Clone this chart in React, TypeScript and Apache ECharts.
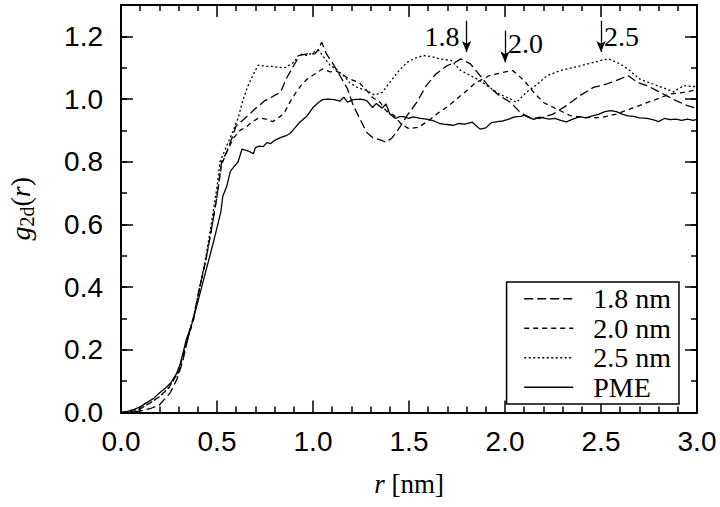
import React, { useEffect, useRef } from "react";
import * as echarts from "echarts";

// r [nm], g2d(r)
const cut18: [number, number][] = [
  [0.0, 0.0], [0.05, 0.0], [0.1, 0.005], [0.15, 0.012], [0.2, 0.024], [0.255, 0.062], [0.29, 0.104],
  [0.32, 0.16], [0.35, 0.24], [0.38, 0.31], [0.41, 0.4], [0.44, 0.48], [0.47, 0.58], [0.5, 0.69],
  [0.524, 0.8], [0.55, 0.83], [0.58, 0.88], [0.6, 0.915], [0.63, 0.93], [0.67, 0.952], [0.7, 0.97],
  [0.72, 0.98], [0.75, 0.995], [0.78, 1.005], [0.81, 1.015], [0.83, 1.021], [0.86, 1.064], [0.9, 1.107],
  [0.93, 1.139], [0.97, 1.144], [1.01, 1.144], [1.03, 1.16], [1.045, 1.181], [1.07, 1.144], [1.1, 1.117],
  [1.14, 1.075], [1.18, 1.032], [1.21, 0.979], [1.245, 0.936], [1.28, 0.893], [1.31, 0.877], [1.35, 0.87],
  [1.38, 0.862], [1.41, 0.875], [1.44, 0.899], [1.49, 0.947], [1.54, 0.989], [1.59, 1.043], [1.64, 1.08],
  [1.7, 1.107], [1.74, 1.117], [1.77, 1.128], [1.82, 1.112], [1.87, 1.075], [1.92, 1.037], [1.97, 1.011],
  [2.03, 0.989], [2.08, 0.957], [2.13, 0.941], [2.18, 0.938], [2.25, 0.952], [2.32, 0.979], [2.39, 1.011],
  [2.46, 1.037], [2.53, 1.048], [2.6, 1.064], [2.64, 1.075], [2.69, 1.053], [2.74, 1.043], [2.79, 1.027],
  [2.84, 1.011], [2.89, 0.995], [2.95, 0.979], [3.0, 0.97],
];

const cut20: [number, number][] = [
  [0.0, 0.0], [0.05, 0.002], [0.1, 0.012], [0.15, 0.03], [0.2, 0.05], [0.25, 0.08], [0.3, 0.13],
  [0.34, 0.22], [0.38, 0.3], [0.41, 0.4], [0.44, 0.48], [0.47, 0.58], [0.5, 0.69], [0.524, 0.79],
  [0.55, 0.83], [0.585, 0.875], [0.62, 0.9], [0.65, 0.91], [0.69, 0.93], [0.72, 0.94], [0.76, 0.935],
  [0.79, 0.928], [0.82, 0.94], [0.85, 0.955], [0.88, 0.99], [0.91, 1.02], [0.94, 1.045], [0.97, 1.064],
  [1.01, 1.08], [1.05, 1.096], [1.09, 1.087], [1.12, 1.09], [1.16, 1.075], [1.19, 1.064], [1.24, 1.053],
  [1.28, 1.027], [1.31, 1.005], [1.35, 0.989], [1.38, 0.963], [1.42, 0.949], [1.46, 0.92], [1.5, 0.905],
  [1.55, 0.91], [1.6, 0.93], [1.65, 0.955], [1.7, 0.975], [1.77, 1.011], [1.85, 1.053], [1.92, 1.075],
  [1.99, 1.085], [2.04, 1.091], [2.1, 1.059], [2.15, 1.021], [2.2, 0.989], [2.27, 0.968], [2.34, 0.947],
  [2.41, 0.941], [2.5, 0.941], [2.58, 0.952], [2.65, 0.968], [2.72, 0.984], [2.79, 1.0], [2.86, 1.016],
  [2.93, 1.021], [3.0, 1.03],
];

const cut25: [number, number][] = [
  [0.0, 0.0], [0.05, 0.004], [0.1, 0.012], [0.15, 0.03], [0.2, 0.05], [0.25, 0.08], [0.3, 0.13],
  [0.34, 0.22], [0.38, 0.31], [0.41, 0.4], [0.44, 0.49], [0.47, 0.6], [0.5, 0.72], [0.516, 0.8],
  [0.55, 0.85], [0.585, 0.9], [0.61, 0.94], [0.637, 1.0], [0.66, 1.04], [0.69, 1.08], [0.715, 1.108],
  [0.74, 1.106], [0.76, 1.104], [0.79, 1.104], [0.81, 1.102], [0.84, 1.1], [0.86, 1.101], [0.88, 1.11],
  [0.9, 1.117], [0.93, 1.144], [0.97, 1.139], [1.0, 1.149], [1.03, 1.155], [1.05, 1.139], [1.09, 1.107],
  [1.12, 1.096], [1.16, 1.075], [1.19, 1.053], [1.23, 1.037], [1.28, 1.027], [1.32, 1.013], [1.36, 1.021],
  [1.4, 1.053], [1.44, 1.085], [1.49, 1.117], [1.53, 1.13], [1.575, 1.139], [1.62, 1.135], [1.66, 1.128],
  [1.72, 1.123], [1.77, 1.091], [1.82, 1.075], [1.87, 1.059], [1.92, 1.037], [1.97, 1.016], [2.03, 1.0],
  [2.06, 0.989], [2.11, 1.021], [2.17, 1.048], [2.22, 1.075], [2.29, 1.091], [2.36, 1.101], [2.43, 1.112],
  [2.5, 1.123], [2.54, 1.128], [2.6, 1.112], [2.65, 1.091], [2.7, 1.064], [2.77, 1.048], [2.84, 1.032],
  [2.88, 1.023], [2.93, 1.043], [2.98, 1.04], [3.0, 1.04],
];

const pme: [number, number][] = [
  [0.0, 0.0], [0.03, 0.003], [0.06, 0.008], [0.1, 0.018], [0.13, 0.03], [0.17, 0.045], [0.2, 0.062],
  [0.23, 0.077], [0.26, 0.095], [0.29, 0.125], [0.31, 0.158], [0.34, 0.232], [0.37, 0.285], [0.394, 0.339],
  [0.42, 0.4], [0.45, 0.47], [0.48, 0.54], [0.5, 0.59], [0.52, 0.64], [0.53, 0.69], [0.55, 0.72],
  [0.57, 0.77], [0.59, 0.785], [0.61, 0.8], [0.63, 0.84], [0.66, 0.835], [0.69, 0.826], [0.7, 0.845],
  [0.72, 0.85], [0.74, 0.848], [0.76, 0.861], [0.78, 0.858], [0.8, 0.868], [0.83, 0.877], [0.86, 0.883],
  [0.88, 0.89], [0.9, 0.904], [0.93, 0.925], [0.97, 0.947], [1.0, 0.973], [1.03, 0.99], [1.05, 0.998],
  [1.08, 1.0], [1.11, 0.998], [1.14, 0.993], [1.16, 1.006], [1.18, 0.99], [1.21, 0.998], [1.25, 1.0],
  [1.28, 0.995], [1.31, 0.973], [1.33, 0.986], [1.36, 0.971], [1.38, 0.984], [1.4, 0.952], [1.43, 0.938],
  [1.45, 0.944], [1.47, 0.944], [1.5, 0.938], [1.52, 0.943], [1.56, 0.938], [1.6, 0.935], [1.63, 0.93],
  [1.66, 0.922], [1.68, 0.92], [1.71, 0.918], [1.73, 0.916], [1.76, 0.922], [1.79, 0.92], [1.83, 0.926],
  [1.85, 0.915], [1.87, 0.904], [1.9, 0.908], [1.93, 0.925], [1.96, 0.928], [1.99, 0.93], [2.02, 0.936],
  [2.05, 0.943], [2.08, 0.945], [2.1, 0.948], [2.13, 0.94], [2.15, 0.935], [2.18, 0.942], [2.2, 0.94],
  [2.23, 0.936], [2.26, 0.938], [2.29, 0.932], [2.32, 0.927], [2.35, 0.935], [2.39, 0.944], [2.42, 0.94],
  [2.46, 0.947], [2.49, 0.952], [2.52, 0.96], [2.55, 0.963], [2.58, 0.96], [2.61, 0.952], [2.64, 0.946],
  [2.67, 0.945], [2.7, 0.94], [2.74, 0.938], [2.77, 0.934], [2.8, 0.928], [2.83, 0.938], [2.86, 0.934],
  [2.89, 0.936], [2.92, 0.932], [2.95, 0.936], [2.98, 0.932], [3.0, 0.935],
];

const seriesNames = ["1.8 nm", "2.0 nm", "2.5 nm", "PME"];

// arrow annotations
const markR = [1.8, 2.0, 2.5];
const markTop = [1.25, 1.218, 1.25];
const markTip = [1.15, 1.117, 1.15];
const markText = ["1.8", "2.0", "2.5"];
const markTextY = [1.2, 1.178, 1.2];
const markSide = ["left", "right", "right"];

const SERIF = "Liberation Serif";
const SANS = "Liberation Sans";

export default function App() {
  const ref = useRef<HTMLDivElement>(null);
  useEffect(() => {
    if (!ref.current) return;
    const chart = echarts.init(ref.current, null, { renderer: "svg" });
    const black = "#000";
    const fmt = (v: number) => v.toFixed(1);

    const baseX = {
      type: "value",
      min: 0,
      max: 3,
      interval: 0.5,
      axisLine: { show: true, onZero: false, lineStyle: { color: black, width: 2 } },
      axisTick: { show: true, inside: true, length: 12, lineStyle: { color: black, width: 1.5 } },
      minorTick: { show: true, splitNumber: 5, length: 6, lineStyle: { color: black, width: 1.5 } },
      splitLine: { show: false },
      minorSplitLine: { show: false },
    };
    const baseY = (interval: number, len: number) => ({
      type: "value",
      min: 0,
      max: 1.3,
      interval,
      axisLine: { show: true, onZero: false, lineStyle: { color: black, width: 2 } },
      axisTick: { show: true, inside: true, length: len, lineStyle: { color: black, width: 1.5 } },
      splitLine: { show: false },
    });

    const lineSeries = (name: string, data: [number, number][], type: any) => ({
      name,
      type: "line",
      data,
      symbol: "none",
      showSymbol: false,
      xAxisIndex: 0,
      yAxisIndex: 0,
      lineStyle: { color: black, width: 1.3, type },
      itemStyle: { color: black },
      z: 3,
    });

    const arrows = markR.map((r, i) => [
      { coord: [r, markTop[i]], symbol: "none" },
      { coord: [r, markTip[i]], symbol: "arrow", symbolSize: [7, 11] },
    ]);
    const texts = markR.map((r, i) => ({
      name: markText[i],
      coord: [r, markTextY[i]],
      symbolSize: 0,
      label: {
        show: true,
        position: markSide[i],
        distance: markSide[i] === "left" ? 7 : 3,
        formatter: "{b}",
        fontFamily: SERIF,
        fontSize: 28,
        color: black,
      },
    }));

    const pmeSeries: any = lineSeries(seriesNames[3], pme, "solid");
    pmeSeries.markLine = {
      silent: true,
      animation: false,
      symbol: ["none", "arrow"],
      label: { show: false },
      lineStyle: { color: black, width: 1.3, type: "solid" },
      data: arrows,
    };
    pmeSeries.markPoint = {
      silent: true,
      animation: false,
      symbol: "circle",
      symbolSize: 0,
      itemStyle: { color: "transparent" },
      data: texts,
    };

    chart.setOption({
      animation: false,
      backgroundColor: "#fff",
      grid: { left: 121, right: 23, top: 5, bottom: 94.5, containLabel: false, outerBoundsMode: "none" },
      legend: {
        data: seriesNames,
        orient: "vertical",
        right: 41,
        top: 282,
        itemWidth: 49,
        itemHeight: 14,
        itemGap: 0,
        padding: [2, 8, 2, 17],
        borderColor: black,
        borderWidth: 1.5,
        backgroundColor: "#fff",
        selectedMode: false,
        itemStyle: { color: "rgba(0,0,0,0)", borderWidth: 0, opacity: 0 },
        lineStyle: { color: black, width: 1.3 },
        textStyle: {
          fontFamily: SERIF,
          fontSize: 28,
          lineHeight: 29.5,
          color: black,
          padding: [0, 0, 0, 15],
        },
      },
      xAxis: [
        {
          ...baseX,
          position: "bottom",
          axisLabel: { show: true, formatter: fmt, fontFamily: SANS, fontSize: 28, color: black, margin: 15 },
          name: "{i|r}{n| [nm]}",
          nameLocation: "middle",
          nameGap: 58,
          nameTextStyle: {
            fontFamily: SERIF,
            fontSize: 27,
            color: black,
            rich: {
              i: { fontFamily: SERIF, fontSize: 27, fontStyle: "italic", color: black },
              n: { fontFamily: SERIF, fontSize: 27, color: black },
            },
          },
        },
        { ...baseX, position: "top", axisLabel: { show: false } },
      ],
      yAxis: [
        {
          ...baseY(0.2, 12),
          position: "left",
          axisLabel: {
            show: true,
            formatter: fmt,
            fontFamily: SANS,
            fontSize: 28,
            color: black,
            margin: 18,
            showMaxLabel: false,
          },
          name: "{i|g}{s|2d}{n|(}{i|r}{n|)}",
          nameLocation: "middle",
          nameGap: 84,
          nameTextStyle: {
            fontFamily: SERIF,
            fontSize: 28,
            color: black,
            rich: {
              i: { fontFamily: SERIF, fontSize: 28, fontStyle: "italic", color: black, lineHeight: 34 },
              n: { fontFamily: SERIF, fontSize: 28, color: black, lineHeight: 34 },
              s: { fontFamily: SERIF, fontSize: 20, color: black, lineHeight: 34, verticalAlign: "bottom" },
            },
          },
        },
        { ...baseY(0.1, 6), position: "left", axisLabel: { show: false } },
        { ...baseY(0.2, 12), position: "right", axisLabel: { show: false } },
        { ...baseY(0.1, 6), position: "right", axisLabel: { show: false } },
      ],
      series: [
        lineSeries(seriesNames[0], cut18, [9, 4]),
        lineSeries(seriesNames[1], cut20, [5, 4]),
        lineSeries(seriesNames[2], cut25, [2, 2.5]),
        pmeSeries,
      ],
    });
    return () => chart.dispose();
  }, []);
  return <div ref={ref} style={{ width: 720, height: 507, position: "absolute", left: 0, top: 0 }} />;
}
